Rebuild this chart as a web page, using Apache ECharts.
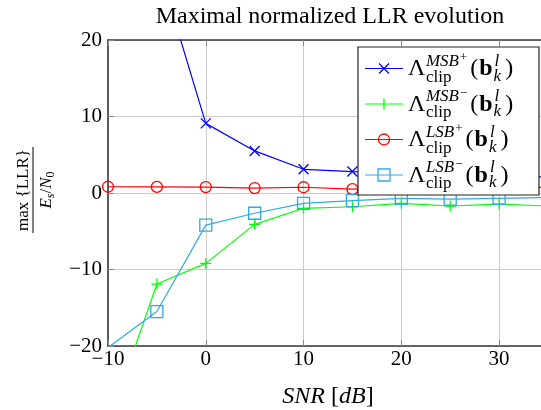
<!DOCTYPE html>
<html>
<head>
<meta charset="utf-8">
<script src="https://cdn.jsdelivr.net/npm/echarts@6/dist/echarts.min.js"></script>
<style>
html,body{margin:0;padding:0;background:#fff;}
#main{width:541px;height:410px;}
</style>
</head>
<body>
<div id="main"></div>
<script>
// ---- Data ----
const snr = [-10, -5, 0, 5, 10, 15, 20, 25, 30, 35];
const msbPlus  = [60, 30.3, 9.1, 5.5, 3.1, 2.8, 2.6, 2.4, 2.2, 2.1];
const msbMinus = [-30.3, -11.9, -9.2, -4.1, -2.0, -1.8, -1.35, -1.7, -1.45, -1.7];
const lsbPlus  = [0.82, 0.8, 0.78, 0.65, 0.75, 0.5, 0.6, 0.7, 0.6, 0.75];
const lsbMinus = [-20.2, -15.5, -4.2, -2.65, -1.35, -1.0, -0.7, -0.8, -0.7, -0.6];
const xTicks = [-10, 0, 10, 20, 30];
const yTicks = [-20, -10, 0, 10, 20];
const supLabels = ['MSB', 'MSB', 'LSB', 'LSB'];
const supSigns = ['+', '\u2212', '+', '\u2212'];

const FF = '"Liberation Serif", "DejaVu Serif", serif';
const BLUE = '#0000ff', GREEN = '#00ff00', RED = '#ff0000', CYAN = '#2eaae6';

const chart = echarts.init(document.getElementById('main'), null, {renderer: 'canvas'});

const ctx = document.createElement('canvas').getContext('2d');
function tw(text, size, style, weight) {
  ctx.font = (style || 'normal') + ' ' + (weight || 'normal') + ' ' + size + 'px ' + FF;
  return ctx.measureText(text).width;
}
function txt(text, x, baseline, size, opts) {
  opts = opts || {};
  return {
    type: 'text', z: 101,
    x: x, y: baseline - 0.34 * size,
    style: {
      text: text, fill: '#000', fontSize: size, fontFamily: FF,
      fontStyle: opts.style || 'normal', fontWeight: opts.weight || 'normal',
      align: opts.align || 'left', verticalAlign: 'middle'
    }
  };
}

function pair(ys) { return snr.map((x, i) => [x, ys[i]]); }
const minus = v => String(v).replace('-', '\u2212');

const seriesDefs = [
  {data: msbPlus, color: BLUE, symbol: 'path://M0 0L10 10M10 0L0 10', size: 10, fill: BLUE},
  {data: msbMinus, color: GREEN, symbol: 'path://M5 0L5 10M0 5L10 5', size: 11, fill: GREEN},
  {data: lsbPlus, color: RED, symbol: 'circle', size: 11, fill: 'rgba(0,0,0,0)'},
  {data: lsbMinus, color: CYAN, symbol: 'rect', size: 12, fill: 'rgba(0,0,0,0)'}
];

const series = seriesDefs.map(d => ({
  type: 'line',
  data: pair(d.data),
  clip: true,
  showSymbol: true,
  symbol: d.symbol,
  symbolSize: d.size,
  lineStyle: {color: d.color, width: 1.2},
  itemStyle: {color: d.fill, borderColor: d.color, borderWidth: 1.3},
  emphasis: {disabled: true},
  animation: false
}));

// ---- Legend drawn as graphic ----
const graphics = [];
const LX = 358, LY = 47, LW = 181, LH = 148;
graphics.push({type: 'rect', z: 100, shape: {x: LX, y: LY, width: LW, height: LH},
  style: {fill: '#fff', stroke: '#222', lineWidth: 1.2}});
seriesDefs.forEach((d, i) => {
  const my = 68.5 + 35.5 * i;
  const B = my + 8.7;
  graphics.push({type: 'line', z: 101, shape: {x1: 365, y1: my, x2: 403, y2: my},
    style: {stroke: d.color, lineWidth: 1.2}});
  const cx = 384;
  if (i === 0) {
    graphics.push({type: 'polyline', z: 102, shape: {points: [[cx - 5, my - 5], [cx + 5, my + 5]]}, style: {stroke: d.color, lineWidth: 1.3, fill: null}});
    graphics.push({type: 'polyline', z: 102, shape: {points: [[cx - 5, my + 5], [cx + 5, my - 5]]}, style: {stroke: d.color, lineWidth: 1.3, fill: null}});
  } else if (i === 1) {
    graphics.push({type: 'polyline', z: 102, shape: {points: [[cx, my - 5.5], [cx, my + 5.5]]}, style: {stroke: d.color, lineWidth: 1.3, fill: null}});
  } else if (i === 2) {
    graphics.push({type: 'circle', z: 102, shape: {cx: cx, cy: my, r: 5.5}, style: {stroke: d.color, lineWidth: 1.3, fill: null}});
  } else {
    graphics.push({type: 'rect', z: 102, shape: {x: cx - 6, y: my - 6, width: 12, height: 12}, style: {stroke: d.color, lineWidth: 1.3, fill: null}});
  }
  // math text: Λ_clip^{XSB±}(b_k^l)
  const big = 24, sm = 17, ss = 13;
  let x = 408;
  graphics.push(txt('\u039B', x, B, big));
  x += tw('\u039B', big) + 0.5;
  graphics.push(txt('clip', x, B + 6, sm));
  graphics.push(txt(supLabels[i], x, B - 10, sm, {style: 'italic'}));
  const wsup = tw(supLabels[i], sm, 'italic') + 1;
  graphics.push(txt(supSigns[i], x + wsup, B - 15, ss));
  x += Math.max(tw('clip', sm), wsup + tw(supSigns[i], ss)) + 3;
  graphics.push(txt('(', x, B, big));
  x += tw('(', big) + 1;
  graphics.push(txt('b', x, B, big, {weight: 'bold'}));
  x += tw('b', big, 'normal', 'bold') + 1;
  graphics.push(txt('l', x + 1, B - 10, sm, {style: 'italic'}));
  graphics.push(txt('k', x, B + 5, sm, {style: 'italic'}));
  x += tw('k', sm, 'italic') + 4;
  graphics.push(txt(')', x, B, big));
});

// ---- Y axis label: rotated fraction ----
(function () {
  const items = [];
  items.push({type: 'text', style: {text: 'max {LLR}', x: 0, y: -9, fontSize: 17, fontFamily: FF, fill: '#000', align: 'center', verticalAlign: 'middle'}});
  items.push({type: 'line', shape: {x1: -43, y1: 0, x2: 43, y2: 0}, style: {stroke: '#000', lineWidth: 1}});
  const parts = [
    {t: 'E', s: 17, st: 'italic', dy: 0},
    {t: 's', s: 12, st: 'italic', dy: 3},
    {t: '/', s: 17, st: 'normal', dy: 0},
    {t: 'N', s: 17, st: 'italic', dy: 0},
    {t: '0', s: 12, st: 'normal', dy: 3}
  ];
  let total = 0;
  parts.forEach(p => { p.w = tw(p.t, p.s, p.st); total += p.w; });
  let x = -total / 2;
  const base = 19;
  parts.forEach(p => {
    items.push({type: 'text', style: {text: p.t, x: x, y: base + p.dy - 0.34 * p.s, fontSize: p.s, fontFamily: FF, fontStyle: p.st, fill: '#000', align: 'left', verticalAlign: 'middle'}});
    x += p.w;
  });
  graphics.push({type: 'group', x: 33, y: 190, rotation: Math.PI / 2, z: 50, children: items});
})();

const axisLineStyle = {color: '#3a3a3a', width: 1.6};
const option = {
  backgroundColor: '#fff',
  animation: false,
  title: {
    text: 'Maximal normalized LLR evolution',
    left: 325, top: 0, textAlign: 'center',
    textStyle: {fontFamily: FF, fontWeight: 'normal', fontSize: 24, color: '#000'}
  },
  grid: {left: 108, top: 40, width: 440, height: 306, outerBoundsMode: 'none', containLabel: false},
  xAxis: [{
    type: 'value', min: -10, max: 35, interval: 10,
    position: 'bottom',
    axisLine: {show: true, onZero: false, lineStyle: axisLineStyle},
    axisTick: {show: true, inside: true, length: 6, lineStyle: {color: '#888'}},
    splitLine: {show: true, lineStyle: {color: '#cccccc', width: 1}},
    axisLabel: {fontFamily: FF, fontSize: 21, color: '#000', margin: 3,
      formatter: v => xTicks.includes(v) ? minus(v) : ''},
    name: '{i|SNR} [{i|dB}]', nameLocation: 'middle', nameGap: 39,
    nameTextStyle: {fontFamily: FF, fontSize: 24, color: '#000',
      rich: {i: {fontFamily: FF, fontSize: 24, fontStyle: 'italic', color: '#000'}}}
  }, {
    type: 'value', min: -10, max: 35, interval: 10, position: 'top',
    axisLine: {show: true, onZero: false, lineStyle: axisLineStyle},
    axisTick: {show: true, inside: true, length: 6, lineStyle: {color: '#888'}},
    axisLabel: {show: false}, splitLine: {show: false}
  }],
  yAxis: [{
    type: 'value', min: -20, max: 20, interval: 10,
    axisLine: {show: true, onZero: false, lineStyle: axisLineStyle},
    axisTick: {show: true, inside: true, length: 6, lineStyle: {color: '#888'}},
    splitLine: {show: true, lineStyle: {color: '#cccccc', width: 1}},
    axisLabel: {fontFamily: FF, fontSize: 21, color: '#000', margin: 6,
      formatter: v => yTicks.includes(v) ? minus(v) : ''}
  }],
  series: series,
  graphic: graphics
};
chart.setOption(option);
</script>
</body>
</html>
